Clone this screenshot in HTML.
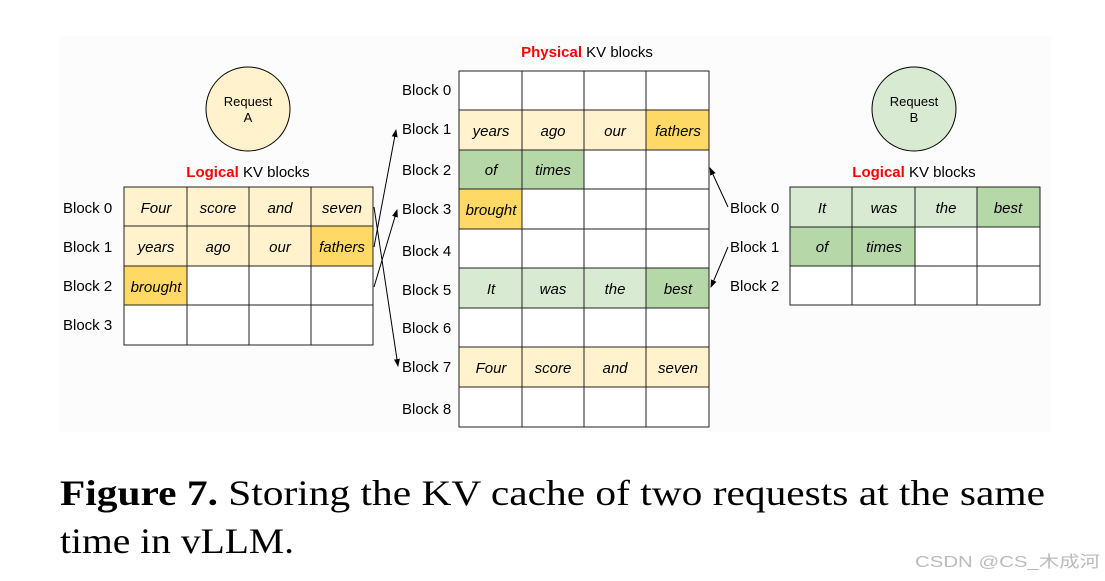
<!DOCTYPE html>
<html><head><meta charset="utf-8"><style>
html,body{margin:0;padding:0;background:#fff;width:1105px;height:581px;overflow:hidden}
svg{display:block}
.l{font-family:"Liberation Sans",sans-serif;font-size:15px;fill:#000}
.c{font-family:"Liberation Sans",sans-serif;font-size:15px;font-style:italic;fill:#000;text-anchor:middle}
.t{font-family:"Liberation Sans",sans-serif;font-size:15px;fill:#000;text-anchor:middle}
.r{fill:#f00;font-weight:bold}
</style></head><body>
<svg width="1105" height="581" viewBox="0 0 1105 581" xmlns="http://www.w3.org/2000/svg">
<defs><marker id="a" markerWidth="8" markerHeight="8" refX="7" refY="4" orient="auto" markerUnits="userSpaceOnUse"><path d="M0,1 L8,4 L0,7 z" fill="#000"/></marker></defs>
<rect x="58" y="36" width="992" height="396" fill="#fcfcfc"/>

<!-- Request A -->
<circle cx="248" cy="109" r="42" fill="#fff2cc" stroke="#000" stroke-width="1"/>
<text class="t" x="248" y="106" font-size="13" style="font-size:13px">Request</text>
<text class="t" x="248" y="122" style="font-size:13px">A</text>
<text class="t" x="248" y="177"><tspan class="r">Logical</tspan> KV blocks</text>

<!-- Left table -->
<g stroke="#222" stroke-width="1">
<rect x="124" y="187" width="187" height="39" fill="#fff2cc"/>
<rect x="311" y="187" width="62" height="39" fill="#fff2cc"/>
<rect x="124" y="226" width="187" height="40" fill="#fff2cc"/>
<rect x="311" y="226" width="62" height="40" fill="#ffd966"/>
<rect x="124" y="266" width="63" height="39" fill="#ffd966"/>
<rect x="187" y="266" width="186" height="79" fill="#fff"/>
<rect x="124" y="305" width="63" height="40" fill="#fff"/>
<rect x="124" y="187" width="249" height="158" fill="none"/>
<path d="M187 187V345M249 187V345M311 187V345M124 226H373M124 266H373M124 305H373" fill="none"/>
</g>
<text class="l" x="63" y="213">Block 0</text>
<text class="l" x="63" y="252">Block 1</text>
<text class="l" x="63" y="291">Block 2</text>
<text class="l" x="63" y="330">Block 3</text>
<text class="c" x="156" y="213">Four</text><text class="c" x="218" y="213">score</text><text class="c" x="280" y="213">and</text><text class="c" x="342" y="213">seven</text>
<text class="c" x="156" y="252">years</text><text class="c" x="218" y="252">ago</text><text class="c" x="280" y="252">our</text><text class="c" x="342" y="252">fathers</text>
<text class="c" x="156" y="292">brought</text>

<!-- Physical -->
<text class="t" x="587" y="57"><tspan class="r">Physical</tspan> KV blocks</text>
<g stroke="#222" stroke-width="1">
<rect x="459" y="71" width="250" height="356" fill="#fff"/>
<rect x="459" y="110" width="187" height="40" fill="#fff2cc"/>
<rect x="646" y="110" width="63" height="40" fill="#ffd966"/>
<rect x="459" y="150" width="125" height="39" fill="#b6d7a8"/>
<rect x="459" y="189" width="63" height="40" fill="#ffd966"/>
<rect x="459" y="268" width="187" height="40" fill="#d9ead3"/>
<rect x="646" y="268" width="63" height="40" fill="#b6d7a8"/>
<rect x="459" y="347" width="250" height="40" fill="#fff2cc"/>
<path d="M522 71V427M584 71V427M646 71V427M459 110H709M459 150H709M459 189H709M459 229H709M459 268H709M459 308H709M459 347H709M459 387H709" fill="none"/>
</g>
<text class="l" x="402" y="95">Block 0</text>
<text class="l" x="402" y="134">Block 1</text>
<text class="l" x="402" y="175">Block 2</text>
<text class="l" x="402" y="214">Block 3</text>
<text class="l" x="402" y="256">Block 4</text>
<text class="l" x="402" y="295">Block 5</text>
<text class="l" x="402" y="333">Block 6</text>
<text class="l" x="402" y="372">Block 7</text>
<text class="l" x="402" y="414">Block 8</text>
<text class="c" x="491" y="136">years</text><text class="c" x="553" y="136">ago</text><text class="c" x="615" y="136">our</text><text class="c" x="678" y="136">fathers</text>
<text class="c" x="491" y="175">of</text><text class="c" x="553" y="175">times</text>
<text class="c" x="491" y="215">brought</text>
<text class="c" x="491" y="294">It</text><text class="c" x="553" y="294">was</text><text class="c" x="615" y="294">the</text><text class="c" x="678" y="294">best</text>
<text class="c" x="491" y="373">Four</text><text class="c" x="553" y="373">score</text><text class="c" x="615" y="373">and</text><text class="c" x="678" y="373">seven</text>

<!-- Request B -->
<circle cx="914" cy="109" r="42" fill="#d9ead3" stroke="#000" stroke-width="1"/>
<text class="t" x="914" y="106" style="font-size:13px">Request</text>
<text class="t" x="914" y="122" style="font-size:13px">B</text>
<text class="t" x="914" y="177"><tspan class="r">Logical</tspan> KV blocks</text>
<g stroke="#222" stroke-width="1">
<rect x="790" y="187" width="250" height="118" fill="#fff"/>
<rect x="790" y="187" width="187" height="40" fill="#d9ead3"/>
<rect x="977" y="187" width="63" height="40" fill="#b6d7a8"/>
<rect x="790" y="227" width="125" height="39" fill="#b6d7a8"/>
<path d="M852 187V305M915 187V305M977 187V305M790 227H1040M790 266H1040" fill="none"/>
</g>
<text class="l" x="730" y="213">Block 0</text>
<text class="l" x="730" y="252">Block 1</text>
<text class="l" x="730" y="291">Block 2</text>
<text class="c" x="822" y="213">It</text><text class="c" x="884" y="213">was</text><text class="c" x="946" y="213">the</text><text class="c" x="1008" y="213">best</text>
<text class="c" x="822" y="252">of</text><text class="c" x="884" y="252">times</text>

<!-- arrows -->
<g stroke="#000" stroke-width="1" fill="none" marker-end="url(#a)">
<line x1="374" y1="207" x2="398" y2="366"/>
<line x1="374" y1="247" x2="396" y2="130"/>
<line x1="374" y1="287" x2="397" y2="210"/>
<line x1="728" y1="207" x2="710" y2="168"/>
<line x1="728" y1="247" x2="711" y2="287"/>
</g>

<!-- caption -->
<text x="60" y="505" font-family="'Liberation Serif',serif" font-size="36" textLength="985" lengthAdjust="spacingAndGlyphs"><tspan font-weight="bold">Figure 7.</tspan> Storing the KV cache of two requests at the same</text>
<text x="60" y="553" font-family="'Liberation Serif',serif" font-size="36" textLength="234" lengthAdjust="spacingAndGlyphs">time in vLLM.</text>
<text x="915" y="567" font-family="'Liberation Sans','Noto Sans CJK SC',sans-serif" font-size="16" fill="#bbb" textLength="185" lengthAdjust="spacingAndGlyphs">CSDN @CS_木成河</text>
</svg>
</body></html>
